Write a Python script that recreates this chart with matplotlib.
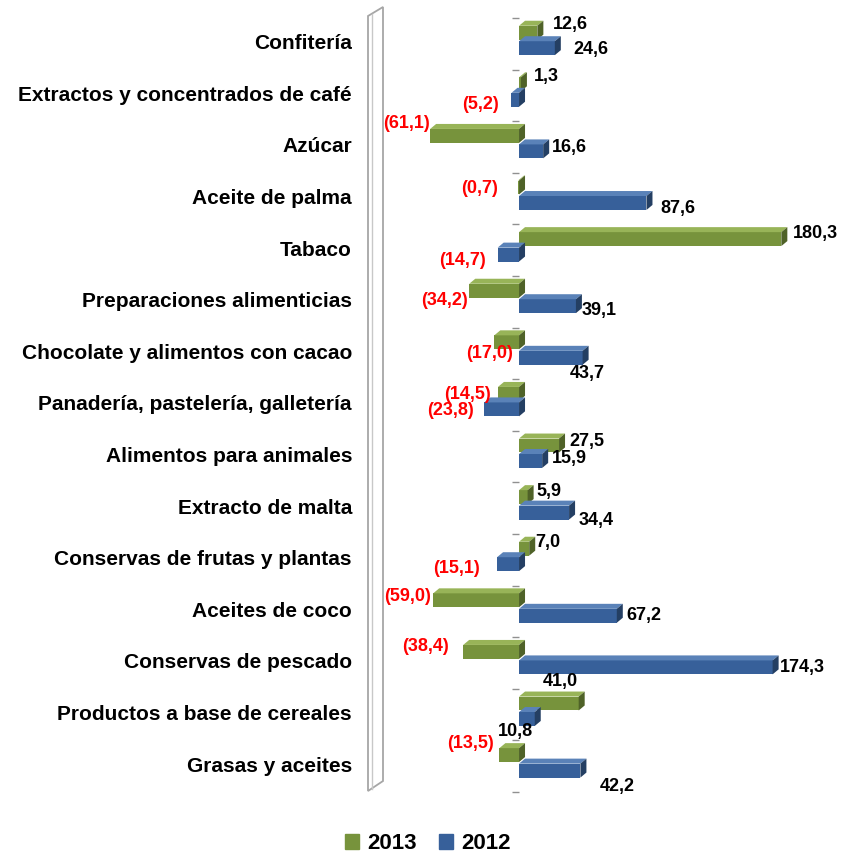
import matplotlib
matplotlib.use("Agg")
import matplotlib.pyplot as plt
from matplotlib.patches import Polygon, Patch
import matplotlib.transforms as mtransforms

plt.rcParams["font.family"] = ["Liberation Sans", "DejaVu Sans"]
plt.rcParams["font.weight"] = "bold"

categories = [
    "Confitería", "Extractos y concentrados de café", "Azúcar", "Aceite de palma",
    "Tabaco", "Preparaciones alimenticias", "Chocolate y alimentos con cacao",
    "Panadería, pastelería, galletería", "Alimentos para animales", "Extracto de malta",
    "Conservas de frutas y plantas", "Aceites de coco", "Conservas de pescado",
    "Productos a base de cereales", "Grasas y aceites",
]
v2013 = [12.6, 1.3, -61.1, -0.7, 180.3, -34.2, -17.0, -14.5, 27.5, 5.9, 7.0, -59.0, -38.4, 41.0, -13.5]
v2012 = [24.6, -5.2, 16.6, 87.6, -14.7, 39.1, 43.7, -23.8, 15.9, 34.4, -15.1, 67.2, 174.3, 10.8, 42.2]

# label offsets in pixels from the bar end (x right, y down)
off2013 = [(33, -8), (25, -8), (-24, -12), (-38, 1), (34, -6), (-25, 10), (-5, 11), (-30, 1),
           (28, -4), (21, -6), (19, -6), (-26, -4), (-38, -5), (-18, -22), (-29, -12)]
off2012 = [(36, 1), (-31, 5), (26, -4), (31, 6), (-35, 6), (23, 4), (5, 16), (-34, 1),
           (27, -2), (27, 8), (-41, 4), (27, 0), (30, 0), (-19, 13), (37, 16)]

W, H = 856, 855
fig = plt.figure(figsize=(W / 100, H / 100), dpi=100)
ax = fig.add_axes([383 / W, 63 / H, 427 / W, 774 / H])
n = len(categories)
ax.set_xlim(-93.5, 200)
ax.set_ylim(n - 0.5, -0.5)

green = ("#77933C", "#98B458", "#4F6228")
blue = ("#37609A", "#5A82B8", "#243F63")
h = 0.27
y = list(range(n))
yg = [i - 0.215 for i in y]
yb = [i + 0.085 for i in y]

def faces(vals, ys, cols):
    to_px = ax.transData.transform
    to_data = ax.transData.inverted().transform
    def sh(x, yy):
        p = to_px((x, yy))
        return to_data((p[0] + 6, p[1] + 5))
    for v, yc in zip(vals, ys):
        x0, x1 = min(0, v), max(0, v)
        yt, ybt = yc - h / 2, yc + h / 2
        ax.add_patch(Polygon([(x0, yt), (x1, yt), sh(x1, yt), sh(x0, yt)],
                             closed=True, fc=cols[1], ec="none", zorder=2))
        ax.add_patch(Polygon([(x1, yt), (x1, ybt), sh(x1, ybt), sh(x1, yt)],
                             closed=True, fc=cols[2], ec="none", zorder=2))

ax.barh(yg, v2013, height=h, color=green[0], zorder=2)
faces(v2013, yg, green)
ax.barh(yb, v2012, height=h, color=blue[0], zorder=3)
faces(v2012, yb, blue)
for p in ax.patches[-3 * n:]:
    p.set_zorder(3)

def fmt(v):
    s = f"{abs(v):.1f}".replace(".", ",")
    return f"({s})" if v < 0 else s

for vals, ys, offs in [(v2013, yg, off2013), (v2012, yb, off2012)]:
    for v, yc, (dx, dy) in zip(vals, ys, offs):
        ax.annotate(fmt(v), xy=(v, yc), xytext=(dx, -dy), textcoords="offset pixels",
                    ha="center", va="center", fontsize=13, fontweight="bold",
                    color="#FF0000" if v < 0 else "black", zorder=5)

# category names
tr = mtransforms.blended_transform_factory(ax.transAxes, ax.transData)
for i, c in enumerate(categories):
    ax.text(-31 / 427, i, c, transform=tr, ha="right", va="center",
            fontsize=15, fontweight="bold")

# ticks at category boundaries on the zero line
for s in ["top", "right", "bottom"]:
    ax.spines[s].set_visible(False)
ax.spines["left"].set_position(("data", 0))
ax.spines["left"].set_visible(False)
ax.set_yticks([i - 0.5 for i in range(n + 1)])
ax.set_yticklabels([])
ax.tick_params(axis="y", length=5, width=1, color="#909090", direction="out")
ax.set_xticks([])

# side wall
def fp(px, py):
    return (px / W, 1 - py / H)
wall = Polygon([fp(368, 16), fp(383, 7), fp(383, 781), fp(368, 791)], closed=True,
               fc="white", ec="#A6A6A6", lw=1.3, transform=fig.transFigure)
fig.add_artist(wall)
fig.add_artist(plt.Line2D([372 / W, 372 / W], [1 - 14 / H, 1 - 789 / H],
                          color="#C8C8C8", lw=1, transform=fig.transFigure))

handles = [Patch(color=green[0], label="2013"), Patch(color=blue[0], label="2012")]
fig.legend(handles=handles, loc="center", bbox_to_anchor=(0.4994, 0.0135), ncol=2,
           frameon=False, fontsize=16, handlelength=0.65, handleheight=0.65,
           handletextpad=0.35, columnspacing=1.0, prop={"weight": "bold", "size": 16})

fig.savefig("out.png", dpi=100)
